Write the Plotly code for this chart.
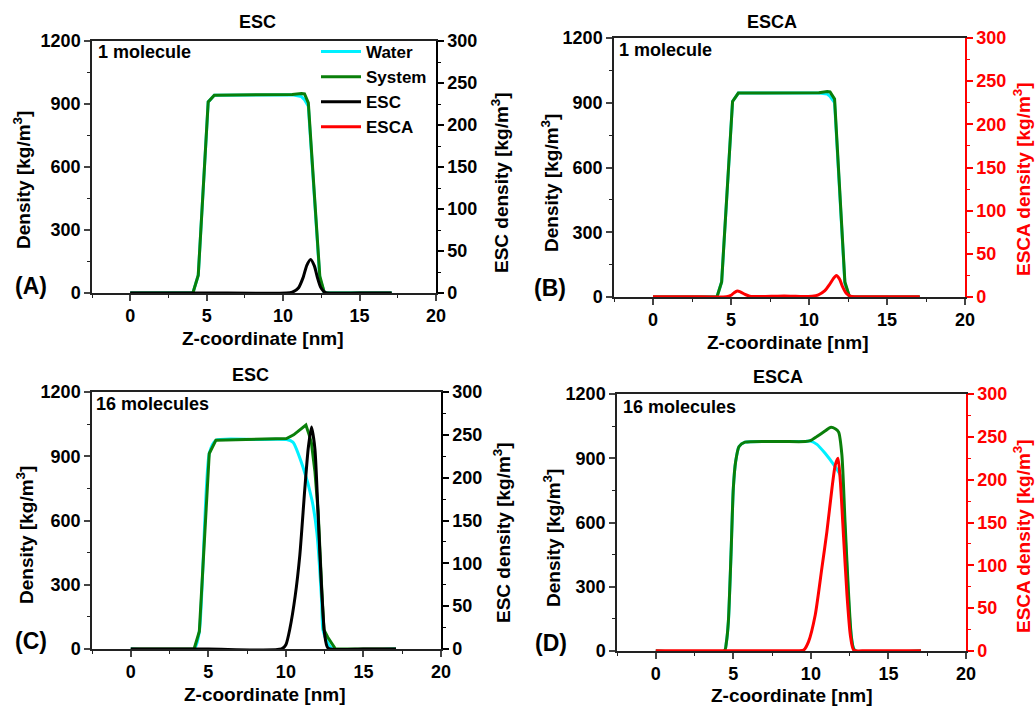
import plotly.graph_objects as go

W, H = 1035, 706

# ---------------- data ----------------
# Panel A: ESC, 1 molecule
zA_sys = [0, 4.1, 4.45, 5.1, 5.5, 8.0, 10.6, 11.2, 11.4, 11.65, 12.4, 12.7, 17.1]
sysA = [0, 0, 85, 910, 942, 944, 945, 950, 948, 905, 80, 0, 0]
watA = [0, 0, 85, 910, 942, 944, 944, 935, 920, 890, 70, 0, 0]
zA_esc = [0, 5.0, 10.2, 10.6, 11.0, 11.3, 11.55, 11.8, 12.05, 12.25, 12.45, 12.65, 12.85, 15.0, 17.1]
escA = [0, 0, 0, 1, 6, 18, 33, 40, 32, 18, 7, 2, 0, 0, 0]

# Panel B: ESCA, 1 molecule
zB_sys = [0, 4.1, 4.4, 5.1, 5.47, 8.0, 10.64, 11.17, 11.35, 11.64, 12.3, 12.6, 17.1]
sysB = [0, 0, 70, 906, 945, 945, 946, 952, 950, 917, 70, 0, 0]
watB = [0, 0, 70, 906, 945, 945, 945, 940, 930, 900, 62, 0, 0]
zB_esca = [0, 2.5, 4.7, 5.0, 5.2, 5.4, 5.6, 5.9, 6.2, 7.0, 8.0, 8.8, 9.6, 10.2, 10.6, 11.0,
           11.3, 11.55, 11.75, 11.95, 12.15, 12.4, 12.65, 12.9, 15.0, 17.1]
escaB = [0.3, 0.3, 0.3, 2, 5, 7, 6, 3, 1, 0.5, 1, 1, 0.5, 1, 2.5, 7,
         14, 21, 25, 21, 12, 4, 1, 0.3, 0.3, 0.3]

# Panel C: ESC, 16 molecules
zC_sys = [0, 4.08, 4.42, 5.06, 5.49, 8.0, 10.04, 10.5, 11.0, 11.29, 11.5, 11.65, 11.87,
          12.08, 12.3, 12.45, 12.7, 13.2, 17.1]
sysC = [0, 0, 82, 913, 975, 978, 983, 1000, 1028, 1046, 1000, 960, 830, 640, 300, 90, 55, 0, 0]
zC_wat = [0, 4.08, 4.42, 5.06, 5.49, 8.0, 10.04, 10.45, 11.1, 11.68, 12.0, 12.3, 12.39, 12.7, 13.0, 17.1]
watC = [0, 0, 82, 913, 975, 978, 978, 966, 850, 696, 541, 229, 89, 28, 0, 0]
zC_esc = [0, 5.0, 9.72, 10.0, 10.26, 10.6, 10.9, 11.22, 11.44, 11.65, 11.87, 12.08, 12.3,
          12.5, 12.72, 15.0, 17.1]
escC = [0, 0, 0, 5, 24, 62, 110, 187, 234, 259, 234, 156, 71, 17, 1, 0, 0]

# Panel D: ESCA, 16 molecules
zD_sys = [0, 4.42, 4.55, 4.68, 4.85, 5.0, 5.15, 5.37, 5.75, 8.0, 9.63, 9.96, 10.39, 10.93,
          11.25, 11.57, 11.79, 12.0, 12.2, 12.41, 12.62, 12.82, 17.1]
sysD = [0, 0, 40, 137, 450, 760, 885, 955, 975, 978, 978, 982, 1002, 1028,
        1044, 1038, 1022, 915, 605, 293, 59, 3, 0]
zD_wat = [0, 4.42, 4.55, 4.68, 4.85, 5.0, 5.15, 5.37, 5.75, 8.0, 9.63, 9.96, 10.39, 10.93,
          11.47, 11.9, 12.1, 12.3, 12.5, 12.7, 12.87, 17.1]
watD = [0, 0, 40, 137, 450, 760, 885, 955, 975, 978, 978, 980, 965, 922,
        870, 820, 680, 420, 150, 25, 0, 0]
zD_esca = [0, 3.0, 6.0, 8.5, 9.53, 9.85, 10.28, 10.71, 11.03, 11.36, 11.57, 11.75, 11.9,
           12.11, 12.33, 12.54, 12.76, 13.5, 15.0, 17.1]
escaD = [0.3, 0.3, 0.3, 0.4, 1, 11, 42, 97, 139, 190, 217, 225, 198,
         132, 65, 19, 1, 0.3, 0.3, 0.3]

x_ticks = [0, 5, 10, 15, 20]
y_left_ticks = [0, 300, 600, 900, 1200]
y_right_ticks = [0, 50, 100, 150, 200, 250, 300]

CYAN, GREEN, BLACK, RED = "#00F0FF", "#0A7F0A", "#000000", "#FF0000"
FONT = "Liberation Sans, Arial, sans-serif"

# plot areas in pixels: (left, right, top, bottom)
boxes = {
    1: (92, 436, 41, 293),
    2: (614, 965, 38, 297),
    3: (92, 441, 392, 649),
    4: (617, 966, 394, 651),
}

fig = go.Figure()

def add(panel, x, y, color, name, right=False, legend=False, rank=None, shape="linear"):
    xa = "x" if panel == 1 else f"x{panel}"
    yi = 2 * panel - 1 + (1 if right else 0)
    ya = "y" if yi == 1 else f"y{yi}"
    fig.add_trace(go.Scatter(
        x=x, y=y, mode="lines", name=name, xaxis=xa, yaxis=ya,
        line=dict(color=color, width=3, shape=shape, smoothing=0.6),
        showlegend=legend, legendrank=rank if rank else 1000,
        hoverinfo="skip"))

add(1, zA_sys, watA, CYAN, "Water", legend=True, rank=1)
add(1, zA_sys, sysA, GREEN, "System", legend=True, rank=2)
add(1, zA_esc, escA, BLACK, "ESC", right=True, legend=True, rank=3, shape="spline")

add(2, zB_sys, watB, CYAN, "Water")
add(2, zB_sys, sysB, GREEN, "System")
add(2, zB_esca, escaB, RED, "ESCA", right=True, legend=True, rank=4, shape="spline")

add(3, zC_wat, watC, CYAN, "Water", shape="spline")
add(3, zC_sys, sysC, GREEN, "System")
add(3, zC_esc, escC, BLACK, "ESC", right=True, shape="spline")

add(4, zD_wat, watD, CYAN, "Water", shape="spline")
add(4, zD_sys, sysD, GREEN, "System", shape="spline")
add(4, zD_esca, escaD, RED, "ESCA", right=True, shape="spline")

layout = dict(
    width=W, height=H,
    margin=dict(l=0, r=0, t=0, b=0, autoexpand=False),
    paper_bgcolor="white", plot_bgcolor="white",
    font=dict(family=FONT, size=18, color="black", weight="bold"),
    legend=dict(x=316 / W, y=1 - 34 / H, xanchor="left", yanchor="top",
                bgcolor="rgba(0,0,0,0)", font=dict(size=17, weight="bold"),
                tracegroupgap=0, itemwidth=40),
)

annotations = []

def ann(text, x, y, size=18, color="black", angle=0, xanchor="center"):
    annotations.append(dict(text=text, x=x / W, y=1 - y / H, xref="paper", yref="paper",
                            showarrow=False, textangle=angle, xanchor=xanchor, yanchor="middle",
                            font=dict(size=size, color=color, family=FONT, weight="bold")))

for p, (l, r, t, b) in boxes.items():
    xk = "xaxis" if p == 1 else f"xaxis{p}"
    yl = 2 * p - 1
    yr = 2 * p
    ylk = "yaxis" if yl == 1 else f"yaxis{yl}"
    yrk = f"yaxis{yr}"
    xanchor_name = "y" if yl == 1 else f"y{yl}"
    xname = "x" if p == 1 else f"x{p}"
    ylname = "y" if yl == 1 else f"y{yl}"
    rcol = RED if p in (2, 4) else "black"
    layout[xk] = dict(
        domain=[l / W, r / W], anchor=xanchor_name, range=[-2.5, 20],
        tickvals=x_ticks, ticks="outside", ticklen=6, tickwidth=1.5,
        showline=True, linecolor="#222", linewidth=1.5, mirror=True,
        showgrid=False, zeroline=False, layer="below traces",
        tickfont=dict(size=18, weight="bold", color="black"),
        minor=dict(ticks="outside", ticklen=3, tickwidth=1.2, dtick=2.5, tick0=-2.5,
                   tickcolor="#222", showgrid=False),
    )
    layout[ylk] = dict(
        domain=[1 - b / H, 1 - t / H], anchor=xname, range=[0, 1200],
        tickvals=y_left_ticks, ticks="outside", ticklen=6, tickwidth=1.5,
        showline=True, linecolor="#222", linewidth=1.5,
        showgrid=False, zeroline=False, layer="below traces",
        tickfont=dict(size=18, weight="bold", color="black"),
        minor=dict(ticks="outside", ticklen=3, tickwidth=1.2, dtick=150,
                   tickcolor="#222", showgrid=False),
    )
    layout[yrk] = dict(
        overlaying=ylname, anchor=xname, side="right", range=[0, 300],
        tickvals=y_right_ticks, ticks="outside", ticklen=6, tickwidth=1.5,
        tickcolor=rcol, showline=True, linecolor=rcol, linewidth=1.5,
        showgrid=False, zeroline=False, layer="below traces",
        tickfont=dict(size=18, weight="bold", color=rcol),
        minor=dict(ticks="outside", ticklen=3, tickwidth=1.2, dtick=25,
                   tickcolor=rcol, showgrid=False),
    )

# titles
ann("ESC", 257, 22)
ann("ESCA", 772, 22)
ann("ESC", 250, 375)
ann("ESCA", 778, 377)

# molecule counts
ann("1 molecule", 96, 52, xanchor="left")
ann("1 molecule", 617, 50, xanchor="left")
ann("16 molecules", 94, 404, xanchor="left")
ann("16 molecules", 621, 407, xanchor="left")

# panel letters
ann("(A)", 31, 286, size=23)
ann("(B)", 550, 288, size=23)
ann("(C)", 31, 641, size=23)
ann("(D)", 551, 643, size=23)

# axis titles
dens = "Density [kg/m<sup>3</sup>]"
ann(dens, 22, 180, size=19, angle=-90)
ann(dens, 550, 183, size=19, angle=-90)
ann(dens, 25, 535, size=19, angle=-90)
ann(dens, 552, 538, size=19, angle=-90)
ann("ESC density [kg/m<sup>3</sup>]", 500, 183, size=19, angle=-90)
ann("ESCA density [kg/m<sup>3</sup>]", 1022, 179, size=19, angle=-90, color=RED)
ann("ESC density [kg/m<sup>3</sup>]", 502, 533, size=19, angle=-90)
ann("ESCA density [kg/m<sup>3</sup>]", 1022, 536, size=19, angle=-90, color=RED)
ann("Z-coordinate [nm]", 263, 338, size=19)
ann("Z-coordinate [nm]", 788, 342, size=19)
ann("Z-coordinate [nm]", 265, 694, size=19)
ann("Z-coordinate [nm]", 792, 695, size=19)

layout["annotations"] = annotations
fig.update_layout(**layout)
fig.write_html("out.html",
               config={"displayModeBar": False},
               post_script="document.body.style.margin='0';document.body.style.overflow='hidden';")
